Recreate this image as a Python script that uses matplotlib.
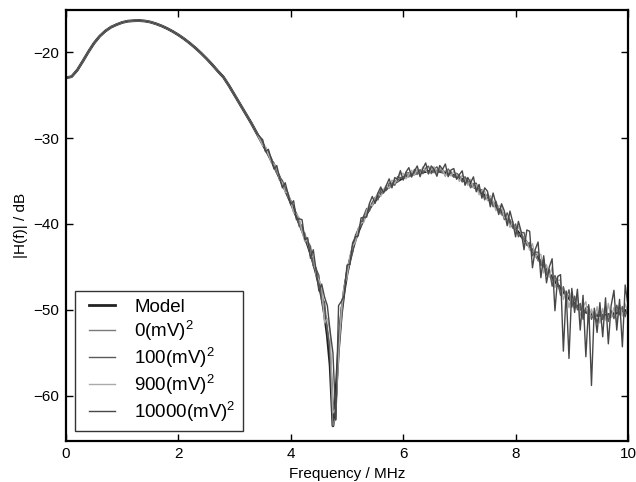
import numpy as np
import matplotlib
matplotlib.use("Agg")
import matplotlib.pyplot as plt

plt.rcParams['font.family'] = ['Liberation Sans', 'DejaVu Sans']
plt.rcParams['mathtext.default'] = 'regular'

# ---- data ----
freq_low = [round(0.1 * i, 2) for i in range(35)]          # 0.0 .. 3.4 MHz
model_low = [-23.0, -22.85, -22.1, -21.05, -19.95, -18.95, -18.15, -17.55, -17.1, -16.8,
             -16.55, -16.4, -16.35, -16.33, -16.38, -16.5, -16.7, -16.95, -17.25, -17.6,
             -18.0, -18.45, -18.95, -19.5, -20.1, -20.75, -21.45, -22.2, -22.9, -23.9,
             -25.0, -26.1, -27.2, -28.3, -29.5]

freq_high = [round(3.5 + 0.05 * i, 2) for i in range(131)]  # 3.5 .. 10.0 MHz
model_high = [-30.7, -31.3, -31.9, -32.55, -33.2, -33.9, -34.6, -35.3, -36.0, -36.75,
              -37.5, -38.3, -39.1, -39.9, -40.7, -41.55, -42.4, -43.4, -44.5, -45.7,
              -47.0, -48.5, -50.5, -53.0, -56.5, -63.5, -60.0, -54.5, -50.5, -47.8,
              -45.8, -44.3, -42.9, -41.8, -40.9, -40.1, -39.4, -38.8, -38.2, -37.7,
              -37.3, -36.9, -36.5, -36.2, -35.9, -35.65, -35.4, -35.2, -35.0, -34.8,
              -34.6, -34.45, -34.35, -34.25, -34.15, -34.05, -34.0, -33.95, -33.9, -33.87,
              -33.85, -33.85, -33.85, -33.9, -33.95, -34.02, -34.1, -34.22, -34.35, -34.5,
              -34.65, -34.82, -35.0, -35.2, -35.4, -35.62, -35.85, -36.1, -36.4, -36.7,
              -37.0, -37.3, -37.6, -37.95, -38.3, -38.65, -39.0, -39.4, -39.8, -40.2,
              -40.6, -41.0, -41.4, -41.8, -42.2, -42.65, -43.1, -43.55, -44.0, -44.45,
              -44.9, -45.35, -45.8, -46.25, -46.7, -47.1, -47.5, -47.9, -48.3, -48.65,
              -49.0, -49.3, -49.6, -49.85, -50.1, -50.25, -50.4, -50.5, -50.6, -50.63,
              -50.65, -50.63, -50.6, -50.55, -50.5, -50.42, -50.35, -50.28, -50.2, -50.1,
              -50.0]

# measured deviations from the model (dB), 3.5 .. 10.0 MHz
dev_0 = [0, .2, -.1, .3, 0, -.2, .2, 0, .3, -.1,
         .2, -.3, .4, 0, -.2, .5, 0, .3, -.4, .6,
         -.3, .8, -.5, 1.0, 1.5, 0, -2.5, .5, -.5, .4,
         .3, -.3, .4, -.2, .3, 0, .3, -.2, .2, .1,
         .2, -.1, .3, 0, .2, -.2, .1, .3, -.1, .2,
         0, .3, -.2, .2, .1, -.2, .3, 0, .2, -.1,
         .3, -.2, .1, .3, -.1, .2, 0, .3, -.2, .1,
         .2, -.2, .3, 0, -.1, .3, -.2, .2, .1, -.3,
         .3, 0, -.2, .3, .1, -.3, .2, 0, .3, -.2,
         .2, -.3, .3, .1, -.2, .4, -.1, .2, -.3, .3,
         .4, -.3, .2, -.4, .5, 0, -.3, .4, -.2, .3,
         -.4, .5, -.2, .3, -.5, .4, -.1, .3, -.4, .2,
         .5, -.3, .4, -.2, .3, -.5, .4, 0, .3, -.4,
         .2]
dev_100 = [.3, -.2, .4, -.1, .3, .2, -.3, .4, 0, .3,
           -.3, .5, .2, -.4, .6, -.2, .4, .8, -.3, .5,
           1.0, -.5, 1.5, .5, 2.0, 3.0, -2.8, 1.0, .8, -.3,
           .6, .2, -.4, .5, .3, -.2, .4, .6, -.3, .2,
           .4, -.3, .5, .2, -.2, .4, .1, -.3, .5, .2,
           -.2, .4, .3, -.3, .5, 0, .3, -.2, .4, .6,
           -.3, .2, .5, -.1, .3, -.4, .5, .2, -.2, .4,
           .3, -.3, .5, .2, -.4, .3, .6, -.2, .4, -.5,
           .5, .2, -.4, .6, -.2, .3, -.5, .7, .2, -.3,
           .6, -.5, .4, .8, -.3, .5, -.6, .3, .7, -.4,
           .8, -.6, .5, -1.0, .7, .3, -.8, .6, -.5, 1.0,
           -.7, .9, -.4, .6, -1.0, .5, .8, -.6, .4, -.9,
           .7, -.5, 1.0, -.8, .4, -.6, .9, -.3, .6, -.7,
           .5]
dev_900 = [-.2, .3, 0, -.3, .2, .4, -.2, .1, -.3, .4,
           .1, -.4, .3, .6, -.2, -.5, .6, -.3, .7, -.2,
           .5, 1.2, -1.0, 2.0, 4.0, 1.5, -1.5, -.8, .5, .6,
           -.4, .5, .3, -.3, .4, .2, -.4, .3, .5, -.2,
           .3, .5, -.3, .2, .4, -.2, .5, -.1, .3, .6,
           .5, -.3, .1, .5, -.2, .4, -.3, .6, .1, -.3,
           .2, .5, -.3, .4, .2, -.4, .3, -.2, .5, .2,
           -.4, .5, .1, -.3, .6, -.2, .4, -.5, .3, .5,
           -.3, .6, .2, -.5, .4, .7, -.3, .2, -.6, .5,
           -.5, .7, .3, -.6, .2, -.4, .8, -.3, .5, .9,
           -.8, .6, -.4, 1.2, -.7, .5, 1.0, -.9, .4, -1.1,
           .9, -.6, 1.1, -.8, .5, 1.2, -1.0, .6, -.5, 1.0,
           -.9, .8, -.6, 1.3, -.4, .7, -1.2, .9, -.5, .8,
           -.4]
dev_10000 = [.5, -.3, .6, .2, -.4, .7, 0, -.5, .8, .3,
             -.2, 1.0, -.4, .5, 1.2, -.3, .8, -.6, 1.5, .3,
             -.8, 1.5, 2.0, 3.5, 4.0, 8.5, -2.8, 5.0, 1.5, -.5,
             1.0, -.4, .7, .3, -.5, .8, .2, -.4, .6, .9,
             -.3, .5, .8, -.2, .4, .9, -.4, .6, .2, 1.0,
             -.3, .5, .9, -.2, .3, .8, -.5, .4, 1.0, -.3,
             .6, .2, -.6, .7, .3, 1.0, -.4, .5, .8, -.3,
             .4, 1.0, -.5, .6, .2, 1.1, -.4, .7, -.6, .9,
             .8, -.7, 1.2, .3, -.6, 1.0, .5, -.8, 1.3, .4,
             -.9, 1.3, .5, -1.2, 1.5, 1.8, -2.0, .6, 1.9, -1.8,
             1.2, -1.5, .8, 2.2, -3.4, 1.0, 1.6, -6.9, .5, -7.0,
             1.5, -1.0, 2.0, -2.5, 1.8, -5.2, 1.0, -8.3, .8, -2.0,
             1.5, -2.5, 2.0, -3.4, 1.0, 2.7, -2.0, 1.5, -4.1, 3.0,
             .5]

labels = ["Model", "0(mV)$^2$", "100(mV)$^2$", "900(mV)$^2$", "10000(mV)$^2$"]
colors = ["#222222", "#7a7a7a", "#5a5a5a", "#aaaaaa", "#474747"]
xticks = [0, 2, 4, 6, 8, 10]
yticks = [-60, -50, -40, -30, -20]

# ---- build series ----
freq = np.array(freq_low + freq_high)
model = np.array(model_low + model_high)
series = [model]
for dev in (dev_0, dev_100, dev_900, dev_10000):
    series.append(np.concatenate([np.array(model_low), np.array(model_high) + np.array(dev)]))

fig = plt.figure(figsize=(6.36, 4.82), dpi=100)
ax = fig.add_axes([66 / 636, 1 - 440.5 / 482, (628 - 66) / 636, (440.5 - 10) / 482])

for i, (y, lab, c) in enumerate(zip(series, labels, colors)):
    lw = 2.0 if i == 0 else 1.0
    ax.plot(freq, y, color=c, lw=lw, label=lab)

ax.set_xlim(0, 10)
ax.set_ylim(-65.2, -15.1)
ax.set_xticks(xticks)
ax.set_yticks(yticks)
ax.tick_params(direction='in', top=True, right=True, length=5, width=1, labelsize=11, pad=5)
for s in ax.spines.values():
    s.set_linewidth(1.6)
ax.set_xlabel("Frequency / MHz", fontsize=11)
ax.set_ylabel("|H(f)| / dB", fontsize=11)

leg = ax.legend(loc='lower left', fontsize=13.5, fancybox=False, framealpha=1,
                edgecolor='#333333', numpoints=2, handlelength=2.0, handletextpad=0.75,
                labelspacing=0.15, borderpad=0.4)
leg.get_frame().set_linewidth(1.0)
for line in leg.get_lines():
    line.set_linewidth(2.0 if line.get_label() == "Model" else 1.0)

fig.savefig("out.png", dpi=100)
